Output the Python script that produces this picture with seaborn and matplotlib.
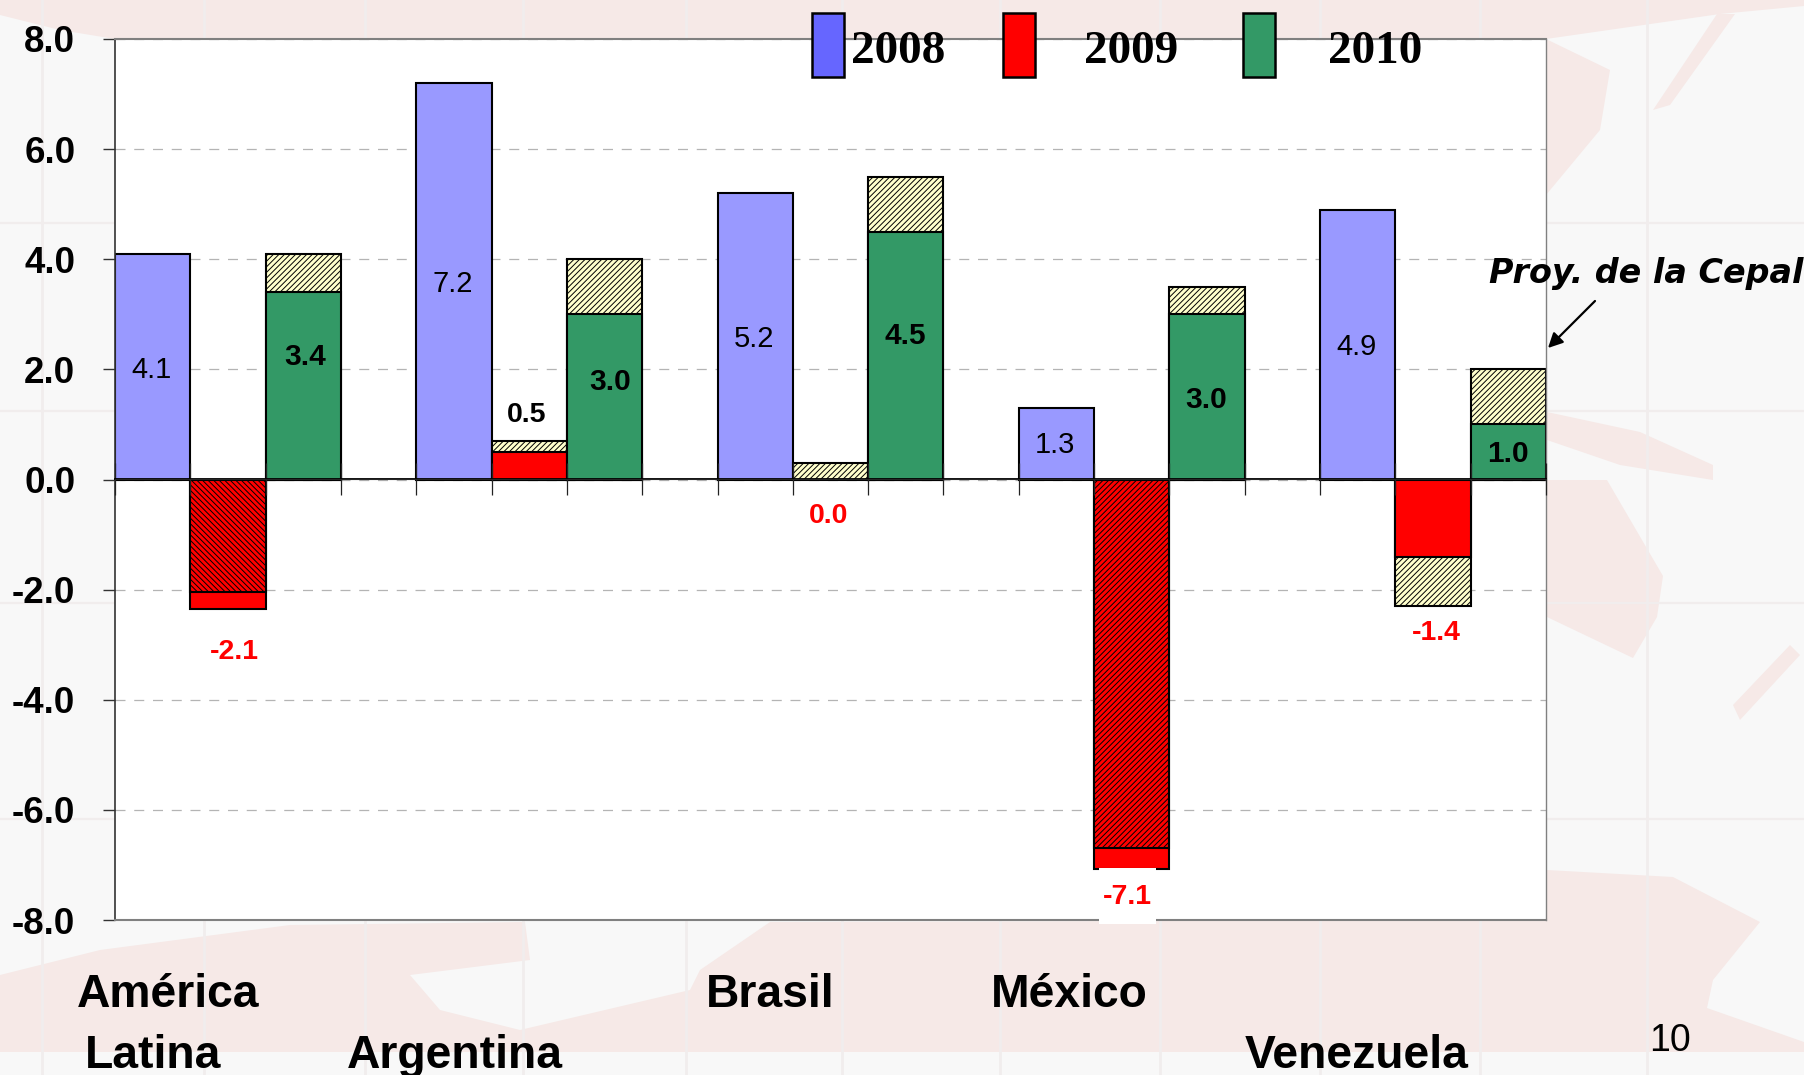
"""
Crecimiento del PIB 2008-2010 por pais, barras apiladas con proyeccion.
"""

import pandas as pd
import matplotlib
matplotlib.use("Agg")
import matplotlib.pyplot as plt
from matplotlib.patches import Polygon, Rectangle
import seaborn as sns

sns.set_style("white")
plt.rcParams["font.family"] = ["Liberation Sans", "DejaVu Sans"]
plt.rcParams["hatch.linewidth"] = 0.7
plt.rcParams["text.color"] = "black"
plt.rcParams["ytick.labelcolor"] = "black"

# ---------------------------------------------------------------------------
# Data
# ---------------------------------------------------------------------------
YEARS = ["2008", "2009", "2010"]
GDP_2008 = [4.1, 7.2, 5.2, 1.3, 4.9]
BASE_2009 = [-2.05, 0.5, 0.0, -6.7, -1.4]
TOTAL_2009 = [-2.35, 0.7, 0.3, -7.08, -2.3]
BASE_2010 = [3.4, 3.0, 4.5, 3.0, 1.0]
TOTAL_2010 = [4.1, 4.0, 5.5, 3.5, 2.0]
LABELS_2008 = ["4.1", "7.2", "5.2", "1.3", "4.9"]
LABELS_2009 = ["-2.1", "0.5", "0.0", "-7.1", "-1.4"]
LABELS_2010 = ["3.4", "3.0", "4.5", "3.0", "1.0"]
YTICKS = [-8, -6, -4, -2, 0, 2, 4, 6, 8]

# where each value label sits (data units, x as shift inside the slot)
LABEL_Y_2008 = [1.98, 3.55, 2.55, 0.62, 2.4]
LABEL_Y_2009 = [-3.13, 1.17, -0.67, -7.58, -2.78]
LABEL_Y_2010 = [2.22, 1.77, 2.6, 1.45, 0.46]
LABEL_DX_2009 = [0.09, -0.03, -0.03, -0.06, 0.05]
LABEL_DX_2010 = [0.02, 0.07, -0.01, -0.01, -0.01]

# country names are free text boxes in the slide: (text, left px, baseline px)
NAME_BOXES = [
    ("América", 77, 1007),
    ("Latina", 85, 1068),
    ("Argentina", 347, 1068),
    ("Brasil", 706, 1007),
    ("México", 991, 1007),
    ("Venezuela", 1245, 1068),
]

BLUE = "#9999FF"
BLUE_KEY = "#6666FF"
RED = "#FF0000"
GREEN = "#339966"
PROJ = "#FFFFCC"
BG = "#F8F8F8"
PINK = "#F6E9E7"
MAP_LINE = "#F1EDED"

W, H = 1804, 1075
N_COUNTRIES = 5
SLOTS = list(range(N_COUNTRIES * 4 - 1))


def px(x, y):
    """Pixel position in the picture -> figure fraction."""
    return x / W, 1 - y / H


def slot(country, year):
    return country * 4 + year


def background(fig):
    """Faint map watermark behind the chart."""
    blobs = [
        # top band
        [(0, 0), (1804, 0), (1804, 6), (1720, 14), (1546, 39), (115, 39), (60, 30), (0, 15)],
        # asia, right of the frame
        [(1546, 39), (1610, 70), (1600, 130), (1546, 195)],
        [(1717, 14), (1735, 14), (1670, 105), (1653, 110)],
        # australia and islands
        [(1547, 480), (1607, 480), (1663, 576), (1657, 617), (1633, 658), (1547, 617)],
        [(1547, 412), (1640, 432), (1713, 465), (1713, 480), (1620, 465), (1547, 440)],
        [(1733, 705), (1790, 645), (1800, 655), (1740, 720)],
        # south america and the bottom band
        [(0, 975), (100, 950), (290, 925), (525, 922), (530, 960), (410, 975), (440, 1010),
         (520, 1030), (690, 990), (700, 970), (770, 922), (1546, 920), (1547, 870), (1673, 877),
         (1760, 922), (1713, 980), (1707, 1008), (1804, 1042), (1804, 1052), (0, 1052)],
    ]
    for pts in blobs:
        fig.add_artist(Polygon([px(*p) for p in pts], closed=True, transform=fig.transFigure,
                               facecolor=PINK, edgecolor="none", zorder=-2))
    # graticule of the map
    for x in [42, 204, 365, 523, 686, 842, 1000, 1160, 1320, 1480, 1647]:
        fig.add_artist(plt.Line2D([x / W] * 2, [0, 1], color=MAP_LINE, lw=2.0, zorder=-1))
    for y in [223, 411, 603, 819]:
        fig.add_artist(plt.Line2D([0, 1], [1 - y / H] * 2, color=MAP_LINE, lw=1.6, zorder=-1))


def build_bars():
    """Long table of bar segments; totals go first so bases cover them."""
    rows = []
    for i in range(N_COUNTRIES):
        rows.append({"slot": slot(i, 0), "value": GDP_2008[i], "style": "blue"})
        if BASE_2009[i] < -2:
            rows.append({"slot": slot(i, 1), "value": TOTAL_2009[i], "style": "red"})
        else:
            rows.append({"slot": slot(i, 1), "value": TOTAL_2009[i], "style": "proj"})
        rows.append({"slot": slot(i, 2), "value": TOTAL_2010[i], "style": "proj"})
    for i in range(N_COUNTRIES):
        if BASE_2009[i] < -2:
            style = "red_back" if i == 0 else "red_fwd"
        else:
            style = "red"
        rows.append({"slot": slot(i, 1), "value": BASE_2009[i], "style": style})
        rows.append({"slot": slot(i, 2), "value": BASE_2010[i], "style": "green"})
    return pd.DataFrame(rows)


STYLES = {
    "blue": (BLUE, None),
    "proj": (PROJ, "//////"),
    "red_back": (RED, "\\" * 6),
    "red_fwd": (RED, "//////"),
    "red": (RED, None),
    "green": (GREEN, None),
}


def draw_bars(ax, bars):
    # red totals have to stay under the hatched red bases
    first = bars.iloc[:N_COUNTRIES * 3]
    second = bars.iloc[N_COUNTRIES * 3:]
    for part in (first, second):
        for style, (color, hatch) in STYLES.items():
            sub = part[part["style"] == style]
            sub = sub[sub["value"] != 0]
            if sub.empty:
                continue
            sns.barplot(data=sub, x="slot", y="value", order=SLOTS, width=1.0, color=color,
                        saturation=1, edgecolor="black", linewidth=1.5, hatch=hatch,
                        errorbar=None, ax=ax)


def draw_labels(ax):
    for i in range(N_COUNTRIES):
        ax.text(slot(i, 0) - 0.02, LABEL_Y_2008[i], LABELS_2008[i], ha="center", va="center",
                fontsize=21, zorder=6)
        ax.text(slot(i, 2) + LABEL_DX_2010[i], LABEL_Y_2010[i], LABELS_2010[i], ha="center",
                va="center", fontsize=21.5, fontweight="bold", zorder=6)
        value_color = "black" if LABELS_2009[i] == "0.5" else RED
        ax.text(slot(i, 1) + LABEL_DX_2009[i], LABEL_Y_2009[i], LABELS_2009[i], ha="center",
                va="center", fontsize=20.5, fontweight="bold", color=value_color, zorder=12)


def draw_legend(fig):
    # spacing in the slide is uneven so every key is placed by hand
    keys = [(812, BLUE_KEY, 851), (1003, RED, 1084), (1243, GREEN, 1328)]
    for (left, color, text_x), year in zip(keys, YEARS):
        x0, y0 = px(left, 77)
        fig.add_artist(Rectangle((x0, y0), 32 / W, 64 / H, transform=fig.transFigure,
                                 facecolor=color, edgecolor="black", linewidth=1.8, zorder=4))
        fig.text(*px(text_x, 63), year, family="Liberation Serif", fontweight="bold",
                 fontsize=34, va="baseline", ha="left", zorder=5)


def main():
    fig = plt.figure(figsize=(W / 100, H / 100), dpi=100, facecolor=BG)
    background(fig)
    ax = fig.add_axes([115 / W, 1 - 920 / H, 1431 / W, 881 / H])
    ax.set_facecolor("white")

    draw_bars(ax, build_bars())

    ax.set_xlim(SLOTS[0] - 0.5, SLOTS[-1] + 0.5)
    ax.set_ylim(-8, 8)
    ax.set_xlabel("")
    ax.set_ylabel("")
    ax.tick_params(axis="x", bottom=False, labelbottom=False)
    ax.set_yticks(YTICKS)
    ax.set_yticklabels([f"{t:.1f}" for t in YTICKS], fontweight="bold", fontsize=26.5)
    ax.tick_params(axis="y", left=True, length=8.6, width=1, color="#333333", pad=20)

    ax.set_axisbelow(True)
    ax.grid(axis="y", color="#B4B4B4", linewidth=0.9, linestyle=(0, (8, 7)))

    for side in ("top", "right", "bottom"):
        ax.spines[side].set_color("#808080")
        ax.spines[side].set_linewidth(1.5)
    ax.spines["right"].set_linewidth(1.0)
    ax.spines["left"].set_color("#333333")
    ax.spines["left"].set_linewidth(1.2)

    # the category axis crosses at zero, ticks on the slot edges
    zero_axis = ax.secondary_xaxis(0.5)
    zero_axis.set_zorder(5)
    zero_axis.set_xticks([s - 0.5 for s in SLOTS] + [SLOTS[-1] + 0.5])
    zero_axis.set_xticklabels([])
    zero_axis.tick_params(axis="x", bottom=True, direction="out", length=11.5, width=0.9,
                          color="#222222")
    zero_axis.spines["bottom"].set_visible(True)
    zero_axis.spines["bottom"].set_color("black")
    zero_axis.spines["bottom"].set_linewidth(1.3)

    # white box of the -7.1 label breaks bar and frame
    ax.add_patch(Rectangle(px(1099, 924), 57 / W, 56 / H, transform=fig.transFigure,
                           facecolor="white", edgecolor="none", clip_on=False, zorder=10))
    draw_labels(ax)

    draw_legend(fig)

    for name, x, y in NAME_BOXES:
        fig.text(*px(x, y), name, fontsize=33.3, fontweight="bold", ha="left", va="baseline")
    fig.text(*px(1649, 1051), "10", fontsize=27, ha="left", va="baseline")

    fig.text(*px(1489, 283), "Proy. de la Cepal", family="DejaVu Sans", fontsize=24,
             fontweight="bold", fontstyle="oblique", ha="left", va="baseline")
    ax.annotate("", xy=px(1548, 348), xytext=px(1595, 301), xycoords="figure fraction",
                textcoords="figure fraction",
                arrowprops=dict(arrowstyle="-|>", color="black", lw=1.6, mutation_scale=22,
                                shrinkA=0, shrinkB=0))

    fig.savefig("out.png", dpi=100)
    plt.close(fig)


if __name__ == "__main__":
    main()
